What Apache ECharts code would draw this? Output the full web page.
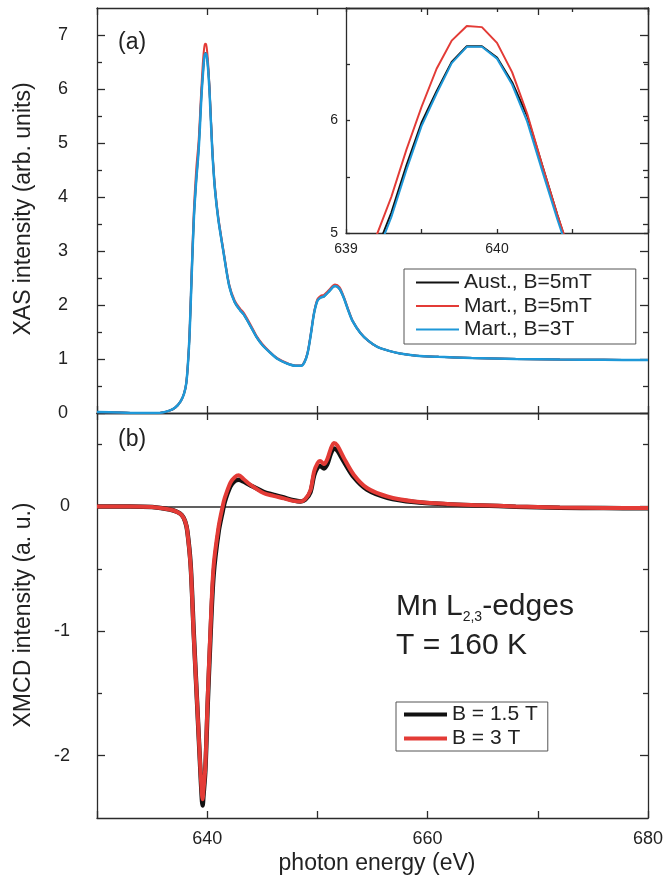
<!DOCTYPE html>
<html><head><meta charset="utf-8">
<script src="https://cdn.jsdelivr.net/npm/echarts@6/dist/echarts.min.js"></script>
<style>html,body{margin:0;padding:0;background:#fff}#chart{width:667px;height:880px}</style>
</head><body><div id="chart"></div>
<script>
// ---------- data ----------
const xasEnergy = [630, 632, 634, 635.5, 636.5, 637.1, 637.6, 637.9, 638.1, 638.25, 638.4, 638.6, 638.8, 639.0, 639.1, 639.2, 639.3, 639.4, 639.5, 639.6, 639.7, 639.8, 639.9, 640.0, 640.1, 640.2, 640.3, 640.4, 640.5, 640.7, 641.0, 641.5, 642.0, 642.5, 643.0, 643.3, 643.9, 644.5, 645.0, 645.7, 646.4, 647.2, 648.0, 648.5, 648.8, 649.1, 649.4, 649.7, 650.0, 650.3, 650.6, 651.0, 651.6, 652.0, 652.4, 652.8, 653.2, 653.9, 654.6, 655.4, 656.5, 657.5, 659.0, 661.0, 664.0, 668.0, 672.0, 676.0, 680.0];
const xasAust = [0.02, 0.01, 0.00, 0.00, 0.04, 0.10, 0.22, 0.36, 0.55, 0.90, 1.45, 2.60, 3.65, 4.30, 4.56, 4.84, 5.18, 5.60, 5.98, 6.26, 6.52, 6.66, 6.66, 6.56, 6.34, 6.04, 5.60, 5.16, 4.74, 4.15, 3.60, 2.95, 2.35, 2.05, 1.90, 1.83, 1.62, 1.40, 1.26, 1.12, 1.00, 0.92, 0.875, 0.875, 0.93, 1.10, 1.45, 1.85, 2.08, 2.14, 2.16, 2.24, 2.35, 2.30, 2.13, 1.90, 1.70, 1.48, 1.34, 1.23, 1.15, 1.10, 1.06, 1.04, 1.02, 1.00, 0.99, 0.985, 0.98];
const xasMart5mT = [0.02, 0.01, 0.00, 0.00, 0.04, 0.10, 0.22, 0.36, 0.56, 0.92, 1.50, 2.70, 3.80, 4.50, 4.75, 4.97, 5.32, 5.74, 6.12, 6.46, 6.71, 6.84, 6.83, 6.69, 6.43, 6.06, 5.60, 5.16, 4.76, 4.20, 3.64, 2.98, 2.38, 2.08, 1.93, 1.86, 1.65, 1.42, 1.28, 1.13, 1.01, 0.93, 0.88, 0.88, 0.94, 1.11, 1.47, 1.87, 2.11, 2.17, 2.19, 2.27, 2.38, 2.33, 2.15, 1.92, 1.71, 1.49, 1.34, 1.23, 1.15, 1.10, 1.06, 1.04, 1.02, 1.00, 0.99, 0.985, 0.98];
const xasMart3T = [0.02, 0.01, 0.00, 0.00, 0.04, 0.10, 0.22, 0.36, 0.55, 0.90, 1.45, 2.60, 3.65, 4.30, 4.55, 4.80, 5.14, 5.56, 5.95, 6.24, 6.51, 6.655, 6.655, 6.55, 6.32, 5.99, 5.55, 5.12, 4.72, 4.15, 3.60, 2.95, 2.35, 2.05, 1.90, 1.83, 1.62, 1.40, 1.26, 1.12, 1.00, 0.92, 0.875, 0.875, 0.93, 1.10, 1.45, 1.85, 2.08, 2.14, 2.16, 2.24, 2.35, 2.30, 2.13, 1.90, 1.70, 1.48, 1.34, 1.23, 1.15, 1.10, 1.06, 1.04, 1.02, 1.00, 0.99, 0.985, 0.98];

const xmcdEnergy = [630, 633, 635, 636.6, 637.3, 637.7, 638.0, 638.2, 638.5, 638.77, 639.07, 639.37, 639.5, 639.58, 639.66, 639.83, 640.04, 640.28, 640.58, 641.04, 641.4, 641.6, 642.1, 642.5, 642.86, 643.3, 643.9, 645.1, 646.0, 646.95, 647.8, 648.46, 648.9, 649.37, 649.7, 650.0, 650.25, 650.6, 650.9, 651.2, 651.5, 651.8, 652.4, 653.3, 654.5, 656.35, 658.8, 661.8, 664.8, 668, 672, 676, 680];
const xmcdB15T = [0.0, 0.0, -0.005, -0.025, -0.045, -0.07, -0.12, -0.2, -0.47, -1.0, -1.55, -2.1, -2.32, -2.40, -2.32, -2.12, -1.6, -1.08, -0.55, -0.2, -0.04, 0.04, 0.16, 0.205, 0.215, 0.2, 0.17, 0.118, 0.095, 0.072, 0.05, 0.04, 0.055, 0.115, 0.25, 0.31, 0.325, 0.305, 0.34, 0.42, 0.465, 0.45, 0.36, 0.235, 0.135, 0.07, 0.035, 0.018, 0.008, -0.002, -0.01, -0.013, -0.015];
const xmcdB3T = [0.0, 0.0, -0.005, -0.025, -0.045, -0.07, -0.12, -0.2, -0.48, -1.02, -1.55, -2.09, -2.28, -2.35, -2.28, -2.09, -1.55, -1.02, -0.48, -0.16, 0.0, 0.07, 0.19, 0.235, 0.25, 0.22, 0.175, 0.108, 0.085, 0.065, 0.045, 0.04, 0.06, 0.13, 0.28, 0.345, 0.365, 0.34, 0.38, 0.46, 0.51, 0.49, 0.39, 0.255, 0.148, 0.08, 0.04, 0.02, 0.01, 0.0, -0.008, -0.012, -0.013];

const xasNames = ['Aust., B=5mT', 'Mart., B=5mT', 'Mart., B=3T'];
const xmcdNames = ['B = 1.5 T', 'B = 3 T'];

// tick labels
const energyLabels = [640, 660, 680];
const xasYLabels = [0, 1, 2, 3, 4, 5, 6, 7];
const xasYMinor = [0.5, 1.5, 2.5, 3.5, 4.5, 5.5, 6.5];
const xmcdYLabels = [-2, -1, 0];
const xmcdYMinor = [-1.5, -0.5, 0.5];
const insetXLabels = [639, 640];
const insetYLabels = [5, 6];

// ---------- chart ----------
const FONT = "'Liberation Sans', Arial, Helvetica, sans-serif";
const INK = '#2b2b2b';
const TXT = '#222';
const BLACK = '#111111', RED = '#e33b36', BLUE = '#1e98d8';
const lineS = {color: INK, width: 1.3};

function pair(xs, ys) { return xs.map((x, i) => [x, ys[i]]); }

function ax(o) {
  const base = {
    type: 'value', splitLine: {show: false},
    axisLine: {show: true, onZero: false, lineStyle: lineS},
    axisTick: {show: true, inside: true, length: 7, lineStyle: lineS},
    axisLabel: {show: false}
  };
  return Object.assign(base, o);
}
function lab(values, size, margin) {
  return {show: true, customValues: values, fontSize: size, margin: margin, color: TXT, fontFamily: FONT};
}
function tk(values, len) {
  const t = {show: true, inside: true, length: len, lineStyle: lineS};
  if (values) t.customValues = values;
  return t;
}

const xAxis = [
  ax({gridIndex: 0, position: 'bottom', min: 630, max: 680, interval: 10}),
  ax({gridIndex: 0, position: 'top', min: 630, max: 680, interval: 10}),
  ax({gridIndex: 1, position: 'bottom', min: 630, max: 680, interval: 10, axisLabel: lab(energyLabels, 18, 12)}),
  ax({gridIndex: 1, position: 'top', min: 630, max: 680, interval: 10}),
  ax({gridIndex: 2, position: 'bottom', min: 639, max: 641, interval: 0.5, axisTick: tk(null, 4), axisLabel: lab(insetXLabels, 14, 9)}),
  ax({gridIndex: 2, position: 'top', min: 639, max: 641, interval: 0.5, axisTick: tk(null, 4)})
];

const yAxis = [
  ax({gridIndex: 0, position: 'left', min: 0, max: 7.5, axisTick: tk(xasYLabels, 8), axisLabel: lab(xasYLabels, 18, 29)}),
  ax({gridIndex: 0, position: 'left', min: 0, max: 7.5, axisLine: {show: false}, axisTick: tk(xasYMinor, 5)}),
  ax({gridIndex: 0, position: 'right', min: 0, max: 7.5, axisTick: tk(xasYLabels, 8)}),
  ax({gridIndex: 0, position: 'right', min: 0, max: 7.5, axisLine: {show: false}, axisTick: tk(xasYMinor, 5)}),
  ax({gridIndex: 1, position: 'left', min: -2.5, max: 0.75, axisTick: tk(xmcdYLabels, 8), axisLabel: lab(xmcdYLabels, 18, 27)}),
  ax({gridIndex: 1, position: 'left', min: -2.5, max: 0.75, axisLine: {show: false}, axisTick: tk(xmcdYMinor, 5)}),
  ax({gridIndex: 1, position: 'right', min: -2.5, max: 0.75, axisTick: tk(xmcdYLabels, 8)}),
  ax({gridIndex: 1, position: 'right', min: -2.5, max: 0.75, axisLine: {show: false}, axisTick: tk(xmcdYMinor, 5)}),
  ax({gridIndex: 2, position: 'left', min: 5, max: 7, interval: 0.5, axisTick: tk(null, 4), axisLabel: lab(insetYLabels, 14, 8)}),
  ax({gridIndex: 2, position: 'right', min: 5, max: 7, interval: 0.5, axisTick: tk(null, 4)})
];

function line(name, xi, yi, data, color, width, smooth, z) {
  return {
    name: name, type: 'line', xAxisIndex: xi, yAxisIndex: yi, data: data,
    symbol: 'none', showSymbol: false, smooth: smooth, clip: true, z: z,
    lineStyle: {color: color, width: width}, itemStyle: {color: color},
    emphasis: {disabled: true}, silent: true
  };
}

const series = [
  line(xasNames[0], 0, 0, pair(xasEnergy, xasAust), BLACK, 2, 0.3, 2),
  line(xasNames[1], 0, 0, pair(xasEnergy, xasMart5mT), RED, 2, 0.3, 3),
  line(xasNames[2], 0, 0, pair(xasEnergy, xasMart3T), BLUE, 2.5, 0.3, 4),
  line(xasNames[0], 4, 8, pair(xasEnergy, xasAust), BLACK, 2, false, 2),
  line(xasNames[1], 4, 8, pair(xasEnergy, xasMart5mT), RED, 2, false, 3),
  line(xasNames[2], 4, 8, pair(xasEnergy, xasMart3T), BLUE, 2, false, 4),
  Object.assign(line(xmcdNames[0], 2, 4, pair(xmcdEnergy, xmcdB15T), BLACK, 4.5, 0.3, 2), {
    markLine: {silent: true, symbol: ['none', 'none'], label: {show: false},
      lineStyle: {color: INK, width: 1.5, type: 'solid'}, data: [{yAxis: 0}], z: 1}
  }),
  line(xmcdNames[1], 2, 4, pair(xmcdEnergy, xmcdB3T), RED, 4, 0.3, 3)
];

const legendText = {fontSize: 21, fontFamily: FONT, color: TXT, lineHeight: 21};
const option = {
  animation: false,
  backgroundColor: '#fff',
  grid: [
    {left: 97, top: 8, width: 551, height: 405},
    {left: 97, top: 413, width: 551, height: 405},
    {left: 346, top: 8, width: 302, height: 225}
  ],
  xAxis: xAxis,
  yAxis: yAxis,
  series: series,
  legend: [
    {data: xasNames, orient: 'vertical', left: 404, top: 269, icon: 'rect', itemWidth: 43, itemHeight: 2, itemGap: 2.5,
      padding: [3, 44, 4, 12], borderColor: '#555', borderWidth: 1, backgroundColor: '#fff',
      textStyle: legendText, selectedMode: false},
    {data: xmcdNames, orient: 'vertical', left: 396, top: 702, icon: 'rect', itemWidth: 43, itemHeight: 4, itemGap: 3,
      padding: [2, 10, 2, 8], borderColor: '#555', borderWidth: 1, backgroundColor: '#fff',
      textStyle: legendText, selectedMode: false}
  ],
  graphic: [
    {type: 'text', left: 118, top: 31, style: {text: '(a)', fontSize: 23, fontFamily: FONT, fill: TXT}},
    {type: 'text', left: 118, top: 428, style: {text: '(b)', fontSize: 23, fontFamily: FONT, fill: TXT}},
    {type: 'text', x: 24, y: 209, rotation: Math.PI / 2,
      style: {text: 'XAS intensity (arb. units)', fontSize: 23, fontFamily: FONT, fill: TXT, align: 'center', verticalAlign: 'middle'}},
    {type: 'text', x: 24, y: 615, rotation: Math.PI / 2,
      style: {text: 'XMCD intensity (a. u.)', fontSize: 23, fontFamily: FONT, fill: TXT, align: 'center', verticalAlign: 'middle'}},
    {type: 'text', x: 377, y: 864,
      style: {text: 'photon energy (eV)', fontSize: 23, fontFamily: FONT, fill: TXT, align: 'center', verticalAlign: 'middle'}},
    {type: 'text', x: 396, y: 590,
      style: {text: '{m|Mn L}{s|2,3}{m|-edges}', fontFamily: FONT, fill: TXT,
        rich: {m: {fontSize: 30, lineHeight: 34, fontFamily: FONT, fill: TXT},
               s: {fontSize: 14, lineHeight: 14, verticalAlign: 'bottom', fontFamily: FONT, fill: TXT}}}},
    {type: 'text', x: 396, y: 629,
      style: {text: 'T = 160 K', fontSize: 30, lineHeight: 34, fontFamily: FONT, fill: TXT}}
  ]
};

const chart = echarts.init(document.getElementById('chart'), null, {renderer: 'canvas'});
chart.setOption(option);
</script>
</body></html>
